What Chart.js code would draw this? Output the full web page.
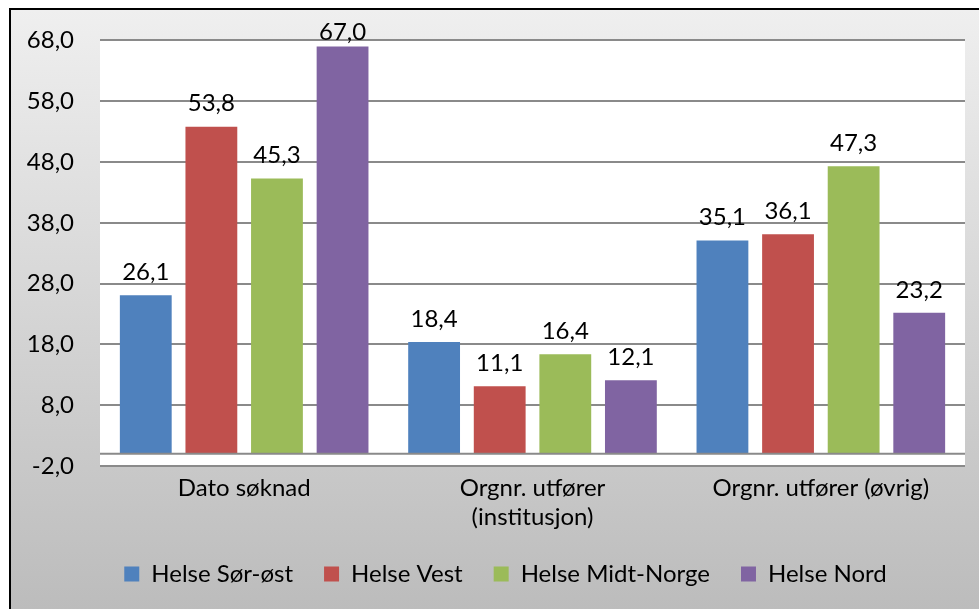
<!DOCTYPE html>
<html>
<head>
<meta charset="utf-8">
<script src="https://cdn.jsdelivr.net/npm/chart.js@4"></script>
<style>
  html, body { margin: 0; padding: 0; background: #fff; }
  #ramme {
    position: absolute; left: 9px; top: 8px; right: 0; bottom: 0;
    border-top: 2px solid #000; border-left: 2px solid #000;
    background: linear-gradient(#efefef, #bcbcbc);
  }
  #wrap { position: absolute; left: 0; top: 0; width: 979px; height: 609px; }
</style>
</head>
<body>
<div id="ramme"></div>
<div id="wrap"><canvas id="graf"></canvas></div>
<script>
const kategorier = ['Dato søknad', ['Orgnr. utfører', '(institusjon)'], 'Orgnr. utfører (øvrig)'];
const helseSorOst = [26.1, 18.4, 35.1];
const helseVest = [53.8, 11.1, 36.1];
const helseMidtNorge = [45.3, 16.4, 47.3];
const helseNord = [67.0, 12.1, 23.2];
const yMin = -2, yMax = 68, ySteg = 10;

const fmt = v => v.toFixed(1).replace('.', ',');

Chart.defaults.font.family = 'Lato';
Chart.defaults.font.size = 24;
Chart.defaults.color = '#000';

// hvit plottflate + linje ved null + verdier over søylene
const plottBakgrunn = {
  id: 'plottBakgrunn',
  afterLayout(chart) {
    // forklaringen står litt til høyre for midten i originalen
    chart.legend.left += 23;
    chart.legend.right += 23;
  },
  beforeDraw(chart) {
    const { ctx, chartArea: a } = chart;
    ctx.save();
    ctx.fillStyle = '#fff';
    ctx.fillRect(a.left, a.top, a.right - a.left, a.bottom - a.top);
    ctx.restore();
  },
  afterDatasetsDraw(chart) {
    const { ctx, chartArea: a, scales } = chart;
    const y0 = scales.y.getPixelForValue(0);
    ctx.save();
    ctx.strokeStyle = '#8a8a8a';
    ctx.lineWidth = 2;
    ctx.beginPath();
    ctx.moveTo(a.left, y0);
    ctx.lineTo(a.right, y0);
    ctx.stroke();
    ctx.fillStyle = '#000';
    ctx.font = '24px Lato';
    ctx.textAlign = 'center';
    ctx.textBaseline = 'middle';
    chart.data.datasets.forEach((ds, i) => {
      chart.getDatasetMeta(i).data.forEach((bar, j) => {
        // Excel holder etiketten innenfor plottflaten
        const y = Math.max(bar.y - 23, a.top - 8);
        ctx.fillText(fmt(ds.data[j]), bar.x, y);
      });
    });
    ctx.restore();
  }
};

new Chart(document.getElementById('graf'), {
  type: 'bar',
  data: {
    labels: kategorier,
    datasets: [
      { label: 'Helse Sør-øst', data: helseSorOst, backgroundColor: '#4F81BD' },
      { label: 'Helse Vest', data: helseVest, backgroundColor: '#C0504D' },
      { label: 'Helse Midt-Norge', data: helseMidtNorge, backgroundColor: '#9BBB59' },
      { label: 'Helse Nord', data: helseNord, backgroundColor: '#8064A2' }
    ]
  },
  options: {
    responsive: true,
    maintainAspectRatio: false,
    animation: false,
    categoryPercentage: 0.91,
    barPercentage: 0.79,
    layout: { padding: { top: 40, right: 14, left: 0, bottom: 13 } },
    scales: {
      x: {
        grid: { display: false, drawTicks: false },
        border: { display: false },
        ticks: { padding: 8, maxRotation: 0, autoSkip: false },
        afterFit(scale) { scale.height = 65; }
      },
      y: {
        min: yMin, max: yMax,
        grid: { color: '#8a8a8a', lineWidth: 2, drawTicks: false },
        border: { display: false },
        ticks: { stepSize: ySteg, padding: 26, callback: v => fmt(v) },
        afterFit(scale) { scale.width = 100; }
      }
    },
    plugins: {
      legend: {
        position: 'bottom',
        labels: { boxWidth: 15, boxHeight: 15, padding: 31 }
      },
      tooltip: { enabled: false }
    }
  },
  plugins: [plottBakgrunn]
});
</script>
</body>
</html>
